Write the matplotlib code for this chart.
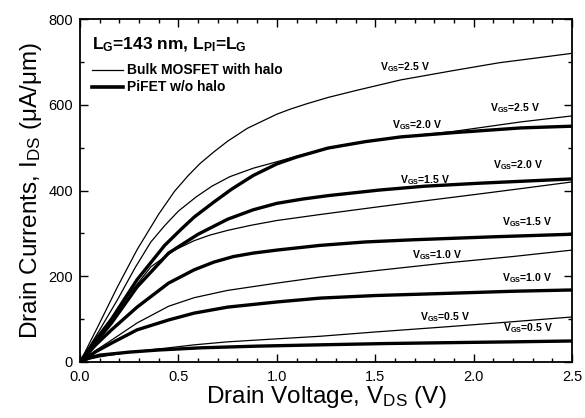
import matplotlib
matplotlib.use("Agg")
import matplotlib.pyplot as plt
from matplotlib.ticker import MultipleLocator, FormatStrFormatter

plt.rcParams['font.family'] = ['Liberation Sans', 'DejaVu Sans']
plt.rcParams['mathtext.fontset'] = 'custom'
plt.rcParams['mathtext.rm'] = 'Liberation Sans'
plt.rcParams['mathtext.it'] = 'Liberation Sans:italic'
plt.rcParams['mathtext.bf'] = 'Liberation Sans:bold'

# Bulk MOSFET with halo (thin lines)
vb25 = [0, 0.09, 0.19, 0.29, 0.40, 0.48, 0.55, 0.61, 0.68, 0.75, 0.85, 1.0, 1.07, 1.15, 1.26, 1.4, 1.63, 1.9, 2.13, 2.3, 2.5]
ib25 = [0, 82, 175, 262, 345, 398, 435, 463, 490, 515, 545, 578, 590, 602, 617, 633, 658, 680, 698, 708, 720]
vb20 = [0, 0.1, 0.19, 0.28, 0.36, 0.43, 0.5, 0.59, 0.67, 0.76, 0.88, 1.0, 1.1, 1.22, 1.4, 1.63, 1.9, 2.24, 2.5]
ib20 = [0, 75, 145, 220, 280, 318, 352, 385, 410, 432, 452, 467, 480, 494, 510, 525, 538, 560, 574]
vb15 = [0, 0.1, 0.24, 0.36, 0.48, 0.58, 0.66, 0.75, 0.87, 1.0, 1.22, 1.5, 1.77, 2.03, 2.25, 2.5]
ib15 = [0, 65, 152, 222, 261, 283, 296, 307, 319, 330, 344, 361, 377, 392, 405, 420]
vb10 = [0, 0.08, 0.16, 0.29, 0.45, 0.58, 0.75, 1.0, 1.22, 1.5, 1.86, 2.2, 2.5]
ib10 = [0, 27, 51, 91, 130, 150, 167, 184, 198, 213, 231, 246, 261]
vb05 = [0, 0.05, 0.1, 0.2, 0.29, 0.45, 0.58, 0.75, 1.0, 1.22, 1.5, 1.86, 2.2, 2.5]
ib05 = [0, 7, 12, 19, 25, 33, 40, 47, 54, 60, 70, 82, 94, 105]

# PiFET w/o halo (thick lines)
vp25 = [0, 0.08, 0.16, 0.29, 0.43, 0.51, 0.58, 0.68, 0.77, 0.88, 1.0, 1.1, 1.26, 1.45, 1.63, 1.9, 2.24, 2.5]
ip25 = [0, 52, 100, 192, 272, 308, 338, 373, 403, 435, 462, 478, 499, 514, 525, 535, 546, 550]
vp20 = [0, 0.08, 0.16, 0.29, 0.45, 0.6, 0.75, 0.88, 1.0, 1.13, 1.26, 1.52, 1.75, 2.03, 2.5]
ip20 = [0, 46, 91, 175, 254, 298, 333, 355, 370, 380, 388, 401, 410, 417, 427]
vp15 = [0, 0.08, 0.16, 0.29, 0.45, 0.58, 0.68, 0.78, 0.88, 1.0, 1.22, 1.45, 1.69, 2.1, 2.5]
ip15 = [0, 40, 75, 128, 184, 215, 233, 246, 254, 261, 272, 280, 285, 292, 298]
vp10 = [0, 0.08, 0.16, 0.29, 0.45, 0.58, 0.75, 1.0, 1.22, 1.5, 1.86, 2.2, 2.5]
ip10 = [0, 24, 44, 75, 98, 114, 128, 140, 149, 155, 160, 165, 168]
vp05 = [0, 0.05, 0.1, 0.25, 0.4, 0.61, 0.9, 1.22, 1.55, 1.86, 2.2, 2.5]
ip05 = [0, 10, 16, 23, 28, 33, 37, 40, 43, 45, 47, 49]

bulk = [(vb25, ib25), (vb20, ib20), (vb15, ib15), (vb10, ib10), (vb05, ib05)]
pifet = [(vp25, ip25), (vp20, ip20), (vp15, ip15), (vp10, ip10), (vp05, ip05)]

label_texts = ['2.5', '2.5', '2.0', '2.0', '1.5', '1.5', '1.0', '1.0', '0.5', '0.5']
label_x = [1.524, 2.083, 1.585, 2.099, 1.626, 2.144, 1.687, 2.144, 1.728, 2.149]
label_y = [688, 592, 553, 459, 424, 326, 249, 196, 105, 79]

fig = plt.figure(figsize=(5.85, 4.18), dpi=100)
ax = fig.add_axes([0.1368, 0.134, 0.8410, 0.8205])

for v, i in bulk:
    ax.plot(v, i, color='black', lw=0.9, solid_joinstyle='round')
for v, i in pifet:
    ax.plot(v, i, color='black', lw=2.4, solid_joinstyle='round', solid_capstyle='round')

for t, x, y in zip(label_texts, label_x, label_y):
    ax.text(x, y, r'$\mathbf{V_{GS}}$' + '=' + t + ' V', fontsize=7.5,
            fontweight='bold', ha='left', va='center')

ax.set_xlim(0, 2.5)
ax.set_ylim(0, 800)
ax.xaxis.set_major_locator(MultipleLocator(0.5))
ax.xaxis.set_minor_locator(MultipleLocator(0.1))
ax.yaxis.set_major_locator(MultipleLocator(200))
ax.yaxis.set_minor_locator(MultipleLocator(100))
ax.tick_params(which='both', direction='in', top=True, right=True, width=1.0,
               labelsize=10.5)
ax.tick_params(which='major', length=6)
ax.tick_params(which='minor', length=3)
ax.tick_params(axis='x', pad=6)
ax.tick_params(axis='y', pad=5)
ax.xaxis.set_major_formatter(FormatStrFormatter('%.1f'))
for s in ax.spines.values():
    s.set_linewidth(1.3)

ax.set_xlabel(r'Drain Voltage, V$_{\mathrm{DS}}$ (V)', fontsize=17.5, labelpad=0)
ax.set_ylabel(r'Drain Currents, I$_{\mathrm{DS}}$ ($\mathrm{\mu}$A/$\mathrm{\mu}$m)',
              fontsize=17.5, labelpad=3)

# header and legend
ax.text(0.024, 0.924, r'$\mathbf{L_{G}}$=143 nm, $\mathbf{L_{PI}}$=$\mathbf{L_{G}}$',
        transform=ax.transAxes, fontsize=12.5, fontweight='bold', ha='left', va='center')
ax.plot([0.024, 0.087], [0.851, 0.851], transform=ax.transAxes, color='black', lw=0.9)
ax.plot([0.024, 0.087], [0.802, 0.802], transform=ax.transAxes, color='black', lw=2.6)
ax.text(0.0955, 0.851, 'Bulk MOSFET with halo', transform=ax.transAxes, fontsize=10,
        fontweight='bold', ha='left', va='center')
ax.text(0.0955, 0.802, 'PiFET w/o halo', transform=ax.transAxes, fontsize=10,
        fontweight='bold', ha='left', va='center')

fig.savefig('out.png', dpi=100)
